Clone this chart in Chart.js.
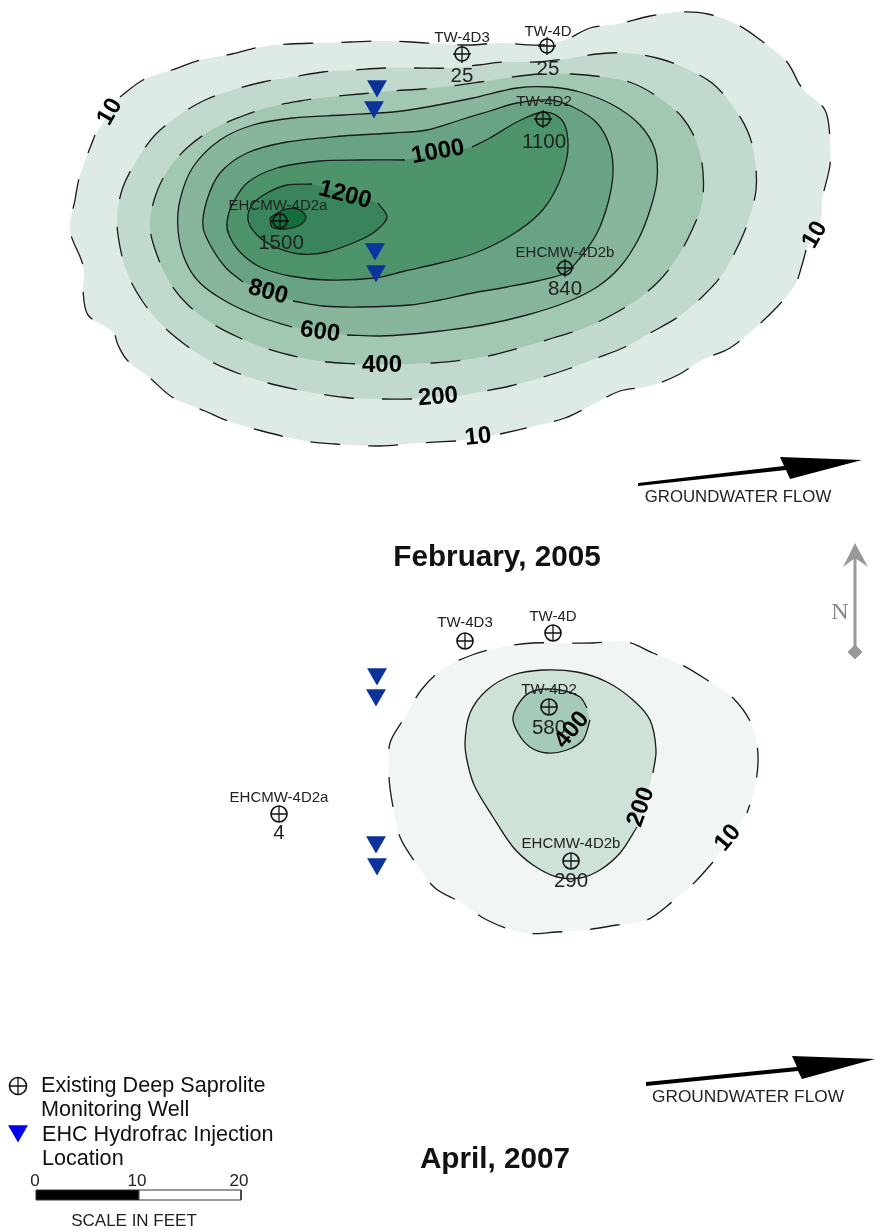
<!DOCTYPE html>
<html>
<head>
<meta charset="utf-8">
<title>Groundwater contours</title>
<style>
  html, body { margin: 0; padding: 0; background: #fff; }
  canvas { display: block; }
</style>
<script src="https://cdn.jsdelivr.net/npm/chart.js@4"></script>
</head>
<body>
<canvas id="map" width="875" height="1231"></canvas>
<script>
// Contours. Each is a list of pieces, split where a label breaks the line
const feb10 = [
  [[120,97],[143,80],[172,70],[200,60],[232,54],[260,47],[290,44],[320,43],[350,42],[380,41],[412,42],[442,44],[470,45],[500,43],[540,45],[565,40],[590,28],[618,24],[650,16],[680,12],[708,14],[738,25],[763,42],[787,62],[802,88],[825,110],[830,140],[830,165],[822,200],[821,218]],
  [[806,250],[802,265],[795,285],[777,307],[755,328],[730,348],[702,360],[678,375],[650,386],[620,391],[592,405],[565,418],[535,426],[500,434]],
  [[456,441],[420,443],[380,446],[335,444],[305,441],[262,431],[228,421],[205,411],[172,397],[150,378],[127,360],[118,345],[113,332],[88,315],[83,290],[84,275],[82,262],[70,230],[75,200],[80,175],[95,135]]
];
const feb200 = [
  [[412,399],[382,399],[350,398],[320,394],[298,390],[268,383],[240,374],[212,362],[187,346],[163,326],[143,302],[128,275],[120,247],[117,217],[123,187],[137,160],[155,135],[178,116],[205,100],[233,90],[263,82],[293,77],[323,72],[353,70],[385,68],[415,68],[450,68],[478,65],[505,62],[537,62],[565,59],[597,54],[625,53],[657,58],[685,68],[712,83],[732,105],[748,132],[755,160],[756,190],[748,222],[737,248],[722,275],[702,297],[678,317],[652,332],[625,347],[597,358],[568,369],[540,378],[510,386],[480,392],[464,395]]
];
const feb400 = [
  [[355,364],[327,362],[298,357],[268,349],[240,338],[213,324],[188,305],[170,283],[157,255],[150,227],[155,197],[168,170],[188,147],[213,129],[240,117],[270,107],[300,101],[328,97],[360,94],[390,91],[422,89],[452,86],[480,82],[512,77],[540,74],[572,74],[603,77],[632,83],[658,97],[682,117],[697,143],[703,172],[702,203],[692,230],[677,258],[658,282],[635,301],[608,317],[582,329],[553,338],[523,347],[493,355],[463,360],[433,363],[410,364]]
];
const feb600 = [
  [[292,327],[260,317],[227,302],[200,283],[185,260],[178,230],[180,200],[193,167],[220,140],[253,125],[293,118],[343,115],[393,112],[427,107],[473,98],[517,88],[550,87],[580,92],[613,105],[640,125],[655,150],[657,180],[650,210],[638,240],[620,267],[597,287],[567,302],[527,315],[483,325],[440,331],[413,334],[380,336],[347,335]]
];
const feb800 = [
  [[243,282],[226,268],[213,250],[203,227],[207,200],[220,173],[247,153],[287,142],[343,136],[393,133],[427,130],[460,120],[490,111],[517,103],[550,100],[573,107],[597,123],[610,147],[613,173],[608,203],[597,233],[580,258],[565,273],[537,281],[507,287],[473,293],[440,300],[410,305],[360,307],[323,306],[293,301]]
];
const feb1000 = [
  [[472,147],[490,138],[517,122],[543,112],[560,118],[567,133],[567,157],[557,187],[540,213],[510,236],[473,254],[440,263],[405,271],[375,278],[327,280],[290,276],[260,267],[240,252],[229,235],[227,222],[232,205],[247,183],[277,168],[320,161],[360,160],[405,160]]
];
const feb1200 = [
  [[378,203],[387,217],[377,230],[360,240],[327,252],[300,254],[275,247],[257,235],[248,220],[252,205],[267,193],[287,185],[312,184]]
];
const feb1500 = [
  [[270,218],[283,210],[298,209],[306,217],[300,225],[285,229],[272,227],[270,218]]
];
const apr10 = [
  [[713,862],[695,882],[672,902],[647,920],[617,925],[585,930],[557,932],[523,933],[487,920],[460,902],[435,888],[415,862],[400,837],[393,807],[389,777],[390,743],[405,717],[422,689],[443,669],[472,655],[502,647],[533,643],[560,643],[593,643],[627,642],[653,653],[682,665],[707,680],[733,698],[752,725],[758,755],[755,787],[747,813]]
];
const apr200 = [
  [[637,827],[620,853],[600,870],[580,878],[557,877],[533,865],[513,847],[493,817],[475,787],[468,765],[465,743],[470,713],[487,690],[513,675],[543,670],[577,672],[607,682],[633,700],[650,720],[656,750],[653,773]]
];
const apr400 = [
  [[587,708],[580,697],[560,690],[537,690],[523,698],[513,717],[518,733],[530,747],[547,753],[567,750],[583,740],[590,720]]
];

// Wells and injection points
const febWells = [[462,54],[547,46],[543,119],[280,221],[565,268]];
const aprWells = [[465,641],[553,633],[549,707],[279,814],[571,861]];
const legendWell = [[18,1086]];
const febInjections = [[377,86],[374,107],[375,249],[376,271]];
const aprInjections = [[377,674],[376,695],[376,842],[377,864]];
const legendInjection = [[18,1131]];

// Arrows and scale bar outlines
const flowArrow1 = [[638,483],[784,466],[780,457],[862,460],[790,479],[786,470],[638,486]];
const flowArrow2 = [[646,1082],[797,1067],[792,1056],[875,1059],[802,1079],[798,1071],[646,1086]];
const northShaft = [[855,552],[855,652]];
const northHead = [[855,543],[868,567],[855,558],[843,567]];
const northBase = [[855,652]];
const scaleBlack = [[36,1190],[139,1190],[139,1200],[36,1200]];
const scaleWhite = [[139,1190],[241,1190],[241,1200],[139,1200]];

// Text
const wellNames = ['TW-4D3', 'TW-4D', 'TW-4D2', 'EHCMW-4D2a', 'EHCMW-4D2b'];
const febNameAt = [[462,38],[548,32],[544,102],[278,206],[565,253]];
const aprNameAt = [[465,623],[553,617],[549,690],[279,798],[571,844]];
const febResults = ['25', '25', '1100', '1500', '840'];
const febResultAt = [[462,76],[548,69],[544,142],[281,243],[565,289]];
const aprResults = ['580', '4', '290'];
const aprResultAt = [[549,728],[279,833],[571,881]];

const contourLabels = ['10', '10', '10', '200', '400', '600', '800', '1000', '1200', '400', '200', '10'];
const contourLabelAt = [[110,112],[815,235],[478,437],[438,397],[382,365],[320,332],[268,292],[438,152],[345,195],[572,730],[641,807],[728,838]];
const contourLabelAngle = [-60,-60,-6,-5,0,8,15,-10,15,-50,-70,-50];

const scaleTicks = ['0', '10', '20'];
const scaleTickAt = [[35,1181],[137,1181],[239,1181]];
const legendLines = ['Existing Deep Saprolite', 'Monitoring Well', 'EHC Hydrofrac Injection', 'Location'];
const legendLineAt = [[41,1086],[41,1110],[42,1135],[42,1159]];

const toXY = pts => pts.map(([x, y]) => ({ x, y }));
const datasets = [];

// One filled band plus its stroked pieces
function addContour(pieces, color, dashed) {
  datasets.push({
    data: toXY(pieces.flat()),
    showLine: true, fill: 'shape', backgroundColor: color,
    borderWidth: 0, pointRadius: 0, tension: 0.33
  });
  pieces.forEach(piece => {
    datasets.push({
      data: toXY(piece),
      showLine: true, fill: false, borderColor: '#1a1a1a', borderWidth: 1.3,
      borderDash: dashed ? [30, 28] : [], pointRadius: 0, tension: 0.33
    });
  });
}

function addShape(pts, color, border) {
  datasets.push({
    data: toXY(pts.concat([pts[0]])),
    showLine: true, fill: 'shape', backgroundColor: color,
    borderColor: border || color, borderWidth: border ? 1 : 0, pointRadius: 0, tension: 0
  });
}

function addWells(pts, radius, crossRadius) {
  datasets.push({
    data: toXY(pts), showLine: false, pointStyle: 'circle', pointRadius: radius,
    pointBackgroundColor: 'rgba(0,0,0,0)', pointBorderColor: '#111', pointBorderWidth: 1.6
  });
  datasets.push({
    data: toXY(pts), showLine: false, pointStyle: 'cross', pointRadius: crossRadius,
    pointBorderColor: '#111', pointBorderWidth: 1.3
  });
}

function addTriangles(pts, color) {
  datasets.push({
    data: toXY(pts), showLine: false, pointStyle: 'triangle', pointRadius: 11.5, pointRotation: 180,
    pointBackgroundColor: color, pointBorderColor: color, pointBorderWidth: 0
  });
}

addContour(feb10, '#deeae4', true);
addContour(feb200, '#c2dacd', true);
addContour(feb400, '#a2c7b2', true);
addContour(feb600, '#87b69d', false);
addContour(feb800, '#68a385', false);
addContour(feb1000, '#4d946b', false);
addContour(feb1200, '#39845a', false);
addContour(feb1500, '#146e3c', false);
addContour(apr10, '#f1f6f4', true);
addContour(apr200, '#cfe2d8', false);
addContour(apr400, '#a6cab8', false);

addTriangles(febInjections, '#0b3399');
addTriangles(aprInjections, '#0b3399');
addTriangles(legendInjection, '#0000ee');
addWells(febWells, 7, 9);
addWells(aprWells, 8, 8);
addWells(legendWell, 8.5, 8.5);

addShape(flowArrow1, '#000');
addShape(flowArrow2, '#000');
addShape(northHead, '#999');
datasets.push({ data: toXY(northShaft), showLine: true, borderColor: '#999', borderWidth: 3, pointRadius: 0 });
datasets.push({
  data: toXY(northBase), showLine: false, pointStyle: 'rectRot', pointRadius: 7,
  pointBackgroundColor: '#999', pointBorderColor: '#999'
});
addShape(scaleBlack, '#000', '#333');
addShape(scaleWhite, '#fff', '#333');

// Later datasets sit on top
datasets.forEach((d, i) => { d.order = datasets.length - i; });

const textPlugin = {
  id: 'mapText',
  afterDatasetsDraw(chart) {
    const { ctx, scales: { x, y } } = chart;
    const put = (text, at, font, color, angle) => {
      ctx.save();
      ctx.translate(x.getPixelForValue(at[0]), y.getPixelForValue(at[1]));
      ctx.rotate((angle || 0) * Math.PI / 180);
      ctx.font = font;
      ctx.fillStyle = color;
      ctx.fillText(text, 0, 0);
      ctx.restore();
    };
    ctx.save();
    ctx.textAlign = 'center';
    ctx.textBaseline = 'middle';

    const sans = '"Liberation Sans", Arial, sans-serif';
    wellNames.forEach((n, i) => {
      put(n, febNameAt[i], '15px ' + sans, '#222');
      put(n, aprNameAt[i], '15px ' + sans, '#222');
    });
    febResults.forEach((t, i) => put(t, febResultAt[i], '20.5px ' + sans, '#222'));
    aprResults.forEach((t, i) => put(t, aprResultAt[i], '20.5px ' + sans, '#222'));
    contourLabels.forEach((t, i) => {
      put(t, contourLabelAt[i], 'bold 24px ' + sans, '#000', contourLabelAngle[i]);
    });

    put('February, 2005', [497, 558], 'bold 29.7px ' + sans, '#111');
    put('April, 2007', [495, 1160], 'bold 29.7px ' + sans, '#111');
    put('GROUNDWATER FLOW', [738, 497], '16.8px ' + sans, '#222');
    put('GROUNDWATER FLOW', [748, 1097], '17.3px ' + sans, '#222');
    put('N', [840, 613], '24px "Liberation Serif", serif', '#888');
    scaleTicks.forEach((t, i) => put(t, scaleTickAt[i], '17px ' + sans, '#222'));
    put('SCALE IN FEET', [134, 1221], '17px ' + sans, '#222');

    ctx.textAlign = 'left';
    legendLines.forEach((t, i) => put(t, legendLineAt[i], '21.6px ' + sans, '#111'));
    ctx.restore();
  }
};

new Chart(document.getElementById('map').getContext('2d'), {
  type: 'scatter',
  data: { datasets },
  options: {
    responsive: false,
    animation: false,
    events: [],
    layout: { padding: 0, autoPadding: false },
    plugins: { legend: { display: false }, tooltip: { enabled: false } },
    scales: {
      x: { type: 'linear', min: 0, max: 875, display: false },
      y: { type: 'linear', min: 0, max: 1231, reverse: true, display: false }
    }
  },
  plugins: [textPlugin]
});
</script>
</body>
</html>
